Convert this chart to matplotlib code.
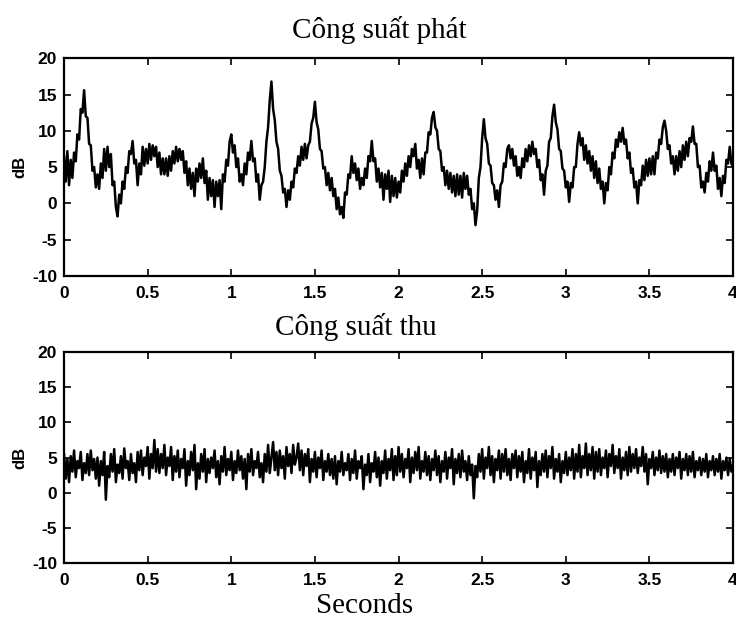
import numpy as np
import matplotlib.pyplot as plt

plt.rcParams['font.family'] = ['Liberation Sans', 'DejaVu Sans']
plt.rcParams['axes.unicode_minus'] = False

# thời gian lấy mẫu (giây), bước 0.01 s
t = np.round(np.arange(0, 4.001, 0.01), 2)

# công suất phát (dB)
p_phat = [
    6.5, 3.0, 7.2, 2.5, 6.0, 3.5, 7.0, 5.8, 9.5, 8.8, 13.0, 12.5, 15.6, 12.0, 11.8, 8.2, 8.0, 4.5, 5.0, 2.2,
    4.0, 2.0, 5.5, 3.5, 7.5, 4.5, 7.8, 5.0, 6.8, 2.5, 3.0, -0.5, -1.8, 1.2, 0.0, 3.0, 2.0, 5.0, 4.2, 7.2,
    6.8, 8.6, 5.5, 6.0, 2.5, 5.5, 4.0, 7.8, 5.2, 7.5, 5.5, 8.2, 6.0, 8.0, 6.5, 7.8, 5.0, 7.0, 4.0, 6.2,
    4.0, 6.2, 3.8, 6.5, 4.5, 7.2, 5.5, 7.8, 5.8, 7.5, 6.0, 7.2, 4.2, 5.8, 2.5, 4.8, 2.0, 4.2, 1.0, 4.8,
    3.0, 5.5, 3.5, 6.2, 2.8, 4.5, 0.5, 3.5, 1.0, 3.2, -0.5, 3.0, 1.0, 3.2, -0.8, 4.0, 3.0, 6.0, 5.2, 8.5,
    9.5, 7.0, 8.0, 5.0, 6.2, 3.0, 4.0, 2.5, 5.5, 4.0, 7.0, 6.0, 8.6, 5.8, 6.2, 3.0, 4.0, 0.5, 2.5, 3.0,
    5.0, 8.5, 10.5, 14.2, 16.8, 13.0, 11.5, 8.5, 7.5, 4.5, 3.8, 1.5, 2.0, -0.5, 1.8, 0.5, 3.0, 2.2, 4.8, 4.2,
    6.5, 5.2, 7.8, 6.0, 8.2, 6.2, 8.0, 8.5, 11.0, 11.8, 14.0, 11.2, 10.2, 7.5, 7.2, 4.8, 5.0, 2.5, 4.2, 1.8,
    3.5, 1.0, 2.0, -0.8, 0.8, -1.5, -0.5, -2.0, 1.5, 1.2, 4.0, 3.5, 6.5, 4.2, 5.5, 3.2, 4.8, 2.0, 3.5, 2.5,
    4.8, 3.5, 6.5, 5.8, 8.6, 5.8, 6.2, 3.0, 4.8, 2.2, 4.2, 0.5, 4.0, 2.0, 4.5, 0.2, 3.8, 1.0, 3.5, 0.8,
    3.0, 1.5, 4.5, 3.0, 5.5, 3.8, 6.5, 5.0, 7.5, 6.5, 8.2, 4.8, 6.0, 3.5, 6.2, 4.0, 7.0, 7.0, 9.8, 9.5,
    11.8, 12.6, 10.5, 10.0, 7.5, 7.2, 4.5, 5.0, 2.5, 4.5, 2.0, 4.2, 1.5, 3.8, 1.0, 4.0, 1.2, 3.8, 0.8, 4.2,
    2.0, 3.8, 1.2, 2.0, -0.8, 0.0, -3.0, -1.0, 3.5, 5.0, 9.0, 11.6, 9.0, 8.2, 5.5, 5.2, 2.8, 2.5, 0.5, 1.8,
    -0.5, 2.5, 3.0, 5.5, 5.0, 7.5, 8.0, 6.2, 7.5, 5.2, 6.5, 3.8, 5.0, 3.5, 6.2, 5.0, 7.5, 5.8, 8.0, 6.5,
    8.5, 6.8, 7.5, 5.0, 6.0, 3.2, 4.0, 1.2, 4.5, 5.2, 8.5, 9.0, 12.0, 13.6, 11.2, 10.2, 7.5, 7.2, 4.8, 4.5,
    2.2, 3.0, 0.2, 2.8, 2.2, 5.0, 5.0, 8.2, 9.8, 8.0, 9.0, 6.0, 8.0, 5.5, 7.2, 4.5, 6.5, 3.5, 5.8, 2.8,
    4.8, 2.0, 3.0, 0.0, 2.8, 1.8, 5.0, 4.0, 7.0, 6.2, 8.8, 7.8, 9.8, 8.5, 10.4, 8.2, 8.8, 6.2, 7.0, 4.2,
    4.8, 2.2, 3.0, 0.0, 3.2, 2.5, 5.2, 3.2, 6.0, 3.8, 6.2, 4.0, 6.5, 4.0, 7.0, 6.2, 8.8, 8.2, 10.5, 11.4,
    10.0, 7.5, 8.0, 5.5, 6.5, 4.0, 6.5, 4.5, 7.2, 5.0, 8.0, 6.0, 8.5, 6.5, 9.0, 8.5, 10.6, 8.2, 8.2, 5.0,
    5.2, 2.2, 3.0, 1.5, 4.2, 3.0, 5.8, 4.5, 7.0, 4.5, 5.2, 2.0, 3.5, 1.0, 3.8, 2.8, 6.0, 5.5, 7.8, 5.5,
    5.0,
]

# công suất thu (dB)
p_thu = [
    5.5, 2.0, 4.8, 1.5, 5.2, 3.0, 6.0, 2.2, 4.5, 3.5, 5.8, 1.8, 4.2, 2.8, 5.5, 2.5, 6.0, 3.2, 4.8, 2.0,
    5.0, 1.0, 4.5, 2.5, 5.8, -1.0, 3.8, 2.2, 5.5, 3.0, 6.2, 1.5, 4.0, 2.8, 5.2, 2.0, 6.3, 3.5, 4.5, 1.8,
    5.5, 2.8, 4.2, 1.5, 5.8, 3.2, 6.0, 2.5, 5.0, 3.8, 6.5, 2.0, 5.5, 3.5, 7.5, 3.0, 6.2, 2.8, 5.5, 3.5,
    6.8, 2.5, 5.0, 3.8, 6.5, 1.8, 5.2, 3.0, 6.0, 2.2, 4.8, 3.5, 6.2, 1.0, 4.5, 2.5, 5.8, 3.2, 6.8, 0.5,
    4.2, 2.0, 5.5, 3.0, 6.2, 1.5, 4.8, 2.8, 5.0, 3.5, 6.0, 2.2, 4.5, 1.2, 5.2, 3.0, 6.5, 2.5, 4.8, 3.2,
    5.8, 1.8, 4.5, 2.8, 6.0, 3.2, 5.2, 2.0, 4.8, 0.5, 5.5, 3.0, 6.2, 2.5, 4.5, 3.5, 5.8, 2.2, 4.2, 1.5,
    5.5, 3.0, 6.8, 2.8, 5.0, 7.2, 3.2, 5.8, 2.5, 6.0, 3.5, 5.2, 2.0, 6.5, 3.8, 5.5, 2.8, 6.8, 4.0, 5.0,
    7.0, 3.2, 6.0, 2.5, 5.5, 3.8, 6.2, 1.5, 4.8, 3.0, 5.8, 2.2, 5.0, 3.5, 6.0, 1.8, 4.5, 3.0, 5.5, 2.5,
    4.8, 2.0, 5.2, 1.2, 4.5, 3.0, 5.8, 2.5, 4.2, 3.2, 5.5, 1.8, 4.8, 2.8, 6.0, 2.0, 4.5, 3.5, 5.2, 0.5,
    4.0, 2.5, 5.5, 1.5, 4.2, 3.0, 5.8, 2.2, 5.0, 1.0, 4.5, 2.8, 6.0, 2.0, 4.8, 3.2, 6.2, 1.8, 5.2, 2.5,
    6.5, 3.0, 5.5, 2.2, 4.8, 3.5, 6.2, 1.5, 5.0, 2.8, 5.8, 3.2, 6.5, 2.0, 4.5, 3.0, 5.8, 2.5, 5.2, 1.8,
    4.8, 3.2, 6.0, 2.5, 5.2, 1.5, 4.5, 3.0, 5.8, 2.0, 5.0, 3.5, 6.2, 1.2, 4.8, 2.8, 5.5, 2.2, 6.0, 3.0,
    4.5, 1.8, 5.2, 2.5, 4.0, -0.8, 3.8, 2.2, 5.5, 3.0, 6.2, 2.0, 5.0, 3.5, 6.5, 2.5, 5.2, 1.5, 4.8, 3.2,
    6.0, 2.0, 5.5, 3.0, 6.2, 2.5, 4.8, 1.8, 5.5, 3.5, 6.0, 2.2, 5.2, 3.0, 5.8, 1.5, 4.5, 2.8, 6.2, 2.0,
    5.0, 3.2, 5.8, 0.8, 4.5, 2.5, 5.5, 3.0, 6.0, 2.2, 5.2, 3.5, 6.5, 2.0, 4.8, 3.0, 5.5, 1.5, 4.5, 2.8,
    5.8, 2.5, 5.0, 3.2, 6.2, 2.0, 5.5, 3.0, 6.8, 2.2, 5.2, 3.5, 7.0, 2.5, 5.5, 3.2, 6.5, 2.0, 5.8, 3.0,
    6.2, 2.5, 5.0, 3.5, 6.0, 2.2, 5.5, 3.8, 6.8, 2.8, 5.2, 3.5, 6.2, 2.0, 5.0, 3.2, 5.8, 2.5, 6.5, 3.0,
    5.5, 3.5, 6.2, 2.8, 5.0, 3.8, 6.5, 3.0, 5.5, 1.2, 4.8, 3.5, 5.8, 2.5, 5.0, 3.2, 6.0, 2.8, 5.2, 3.0,
    5.5, 2.2, 4.8, 3.0, 5.5, 2.5, 5.0, 3.5, 5.8, 2.0, 4.8, 3.2, 5.5, 2.5, 5.2, 3.0, 5.8, 2.2, 4.5, 3.2,
    5.0, 2.5, 4.8, 3.0, 5.5, 2.2, 4.5, 3.2, 5.2, 2.5, 4.8, 3.0, 5.5, 2.0, 4.5, 3.2, 5.0, 2.5, 4.8, 3.0,
    4.0,
]

x_ticks = [0, 0.5, 1, 1.5, 2, 2.5, 3, 3.5, 4]
x_labels = ['0', '0.5', '1', '1.5', '2', '2.5', '3', '3.5', '4']
y_ticks = [-10, -5, 0, 5, 10, 15, 20]

fig = plt.figure(figsize=(7.36, 6.2), dpi=100)
ax1 = fig.add_axes([0.087, 0.555, 0.909, 0.351])
ax2 = fig.add_axes([0.087, 0.092, 0.909, 0.340])

for ax, y in [(ax1, p_phat), (ax2, p_thu)]:
    ax.plot(t, y, color='black', lw=1.8)
    ax.set_xlim(0, 4)
    ax.set_ylim(-10, 20)
    ax.set_xticks(x_ticks)
    ax.set_xticklabels(x_labels)
    ax.set_yticks(y_ticks)
    ax.tick_params(direction='in', top=True, right=True, length=5, width=1.2,
                   labelsize=12.5)
    ax.tick_params(axis='x', pad=7)
    ax.tick_params(axis='y', pad=5)
    for lab in ax.get_xticklabels() + ax.get_yticklabels():
        lab.set_fontweight('bold')
    for s in ax.spines.values():
        s.set_linewidth(1.6)
    ax.set_ylabel('dB', fontsize=12, fontweight='bold', labelpad=3)

serif = ['Liberation Serif', 'DejaVu Serif']
fig.text(0.516, 0.952, 'Công suất phát', ha='center', va='center', fontsize=21, family=serif)
fig.text(0.484, 0.473, 'Công suất thu', ha='center', va='center', fontsize=21, family=serif)
fig.text(0.496, 0.023, 'Seconds', ha='center', va='center', fontsize=21, family=serif)

fig.savefig('out.png', dpi=100)
